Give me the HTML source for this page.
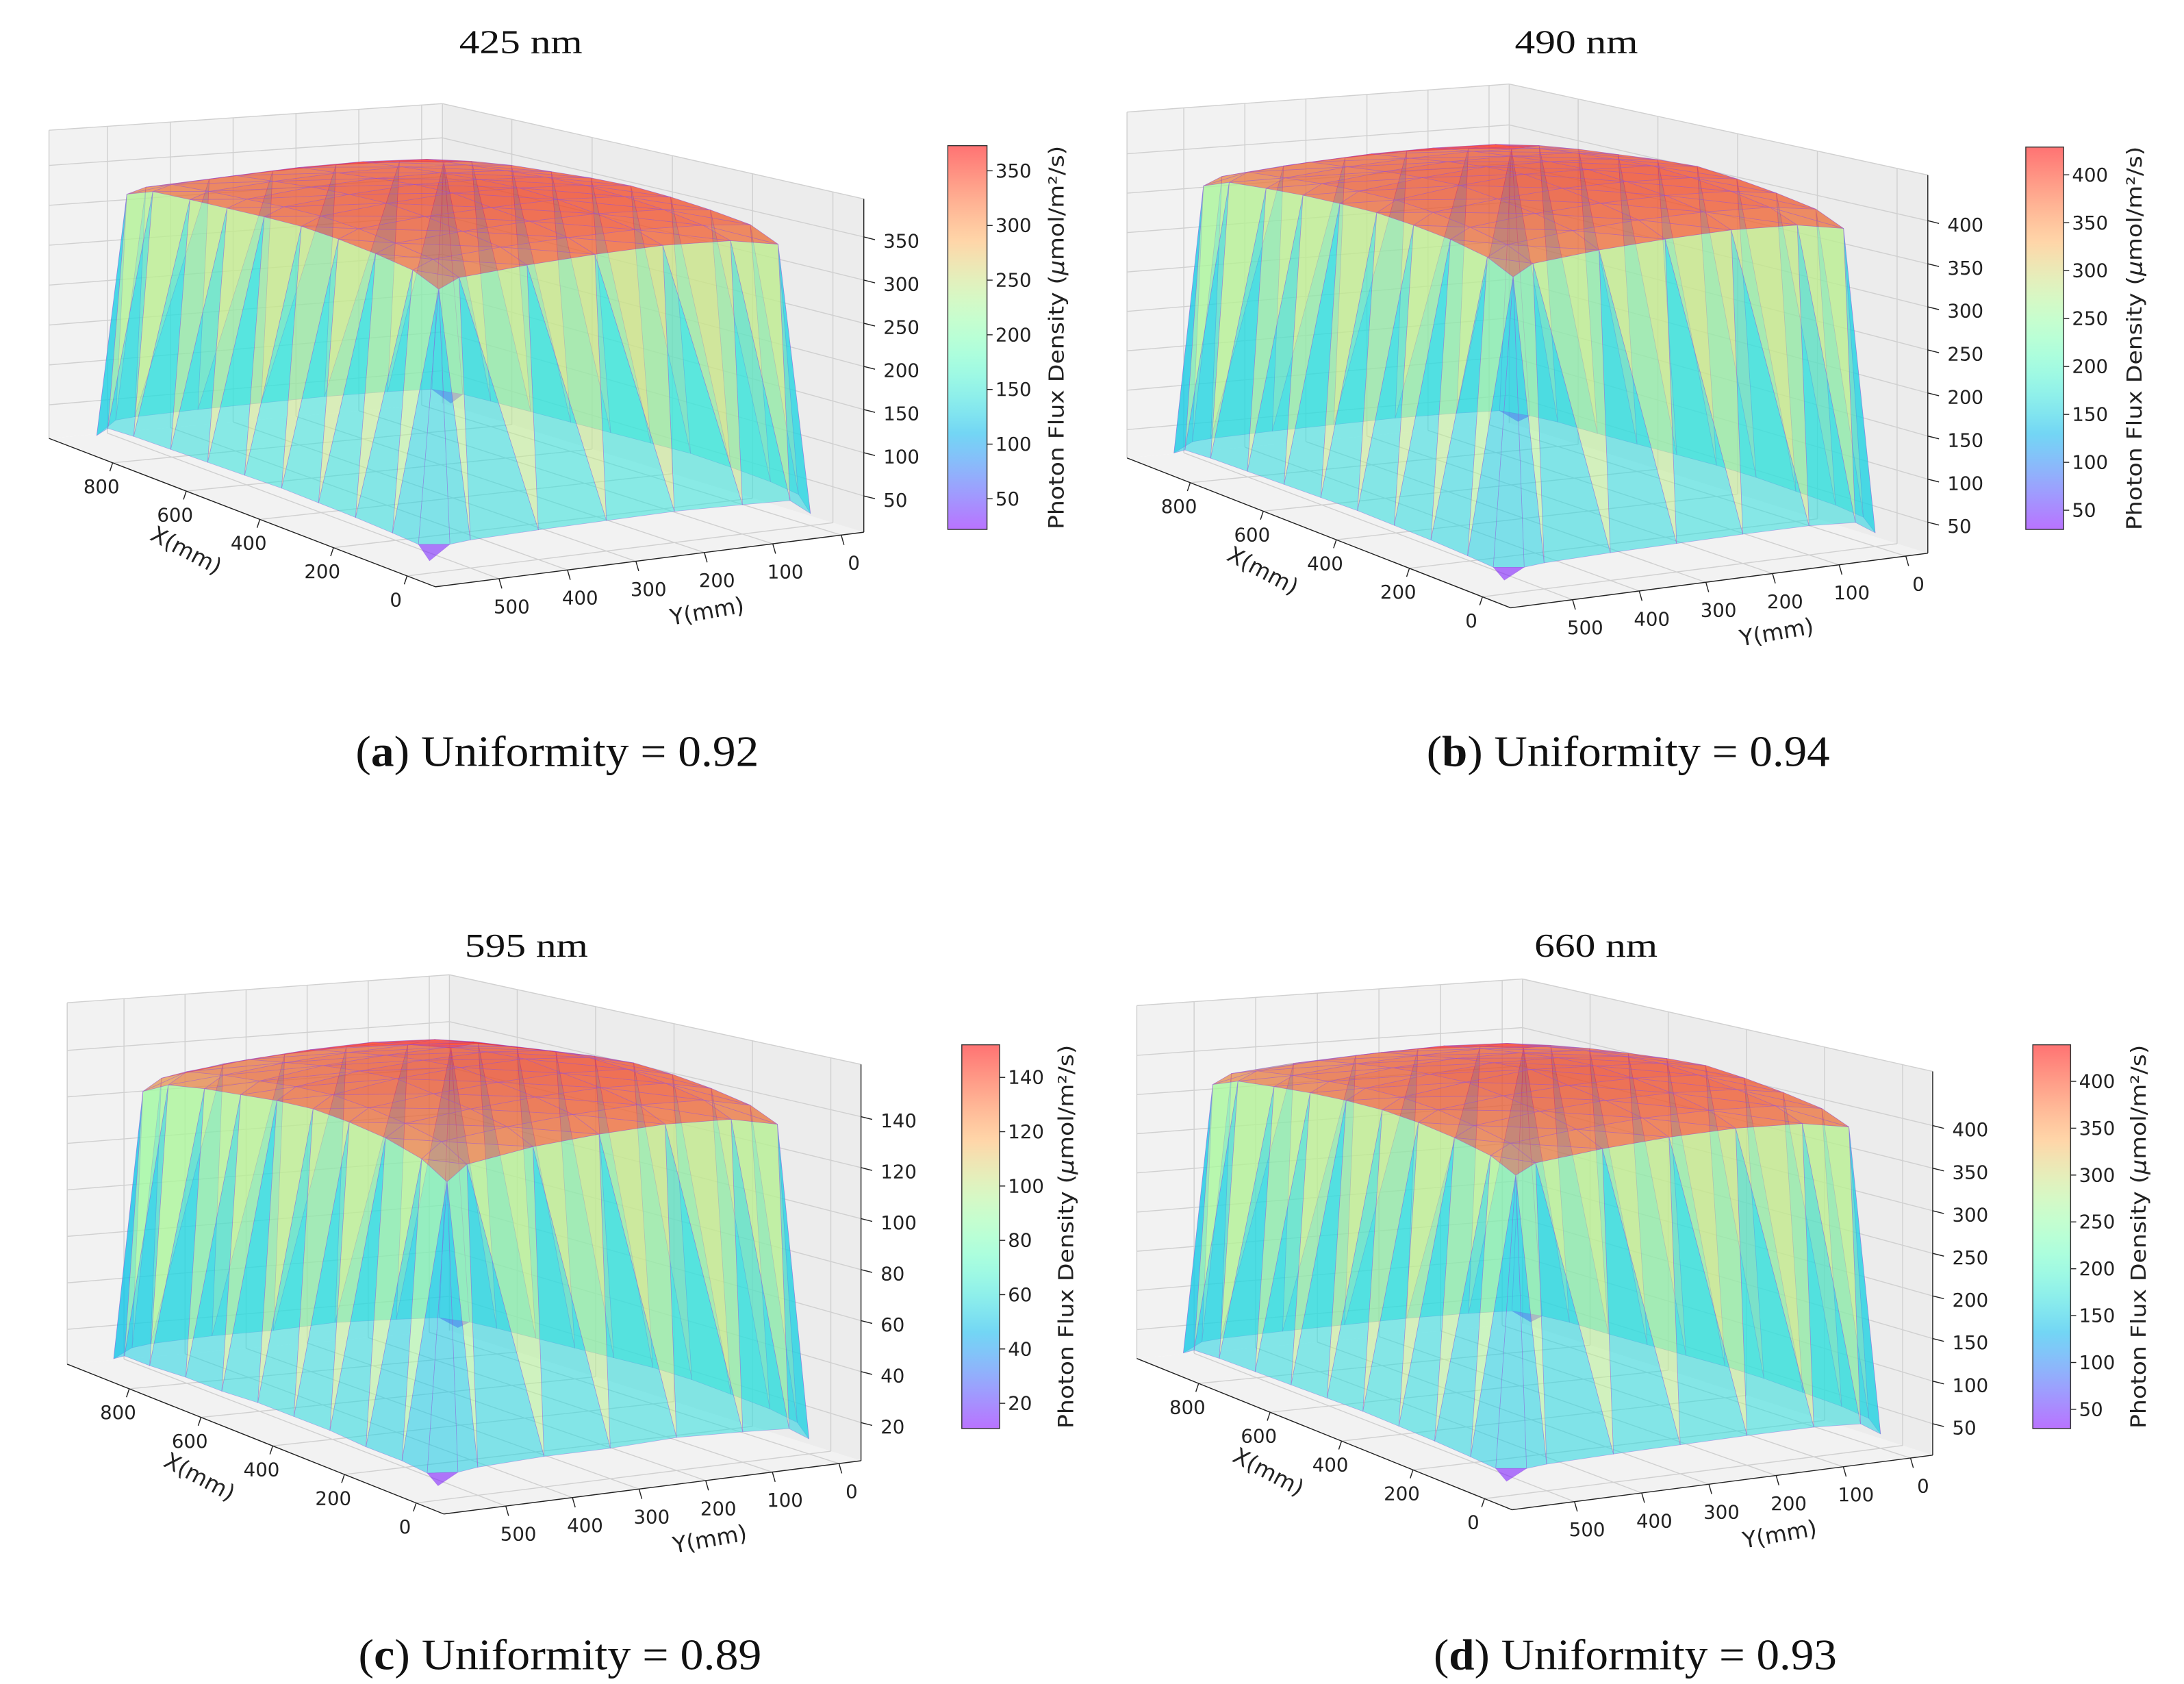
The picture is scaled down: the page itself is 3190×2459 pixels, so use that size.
<!DOCTYPE html>
<html><head><meta charset="utf-8"><style>
html,body{margin:0;padding:0;background:#fff;}
svg{display:block;}
</style></head><body>
<svg id="fig" xmlns="http://www.w3.org/2000/svg" width="3190" height="2459" viewBox="0 0 1560 1202.4" preserveAspectRatio="none">
<rect x="0" y="0" width="1560" height="1202.4" fill="#fff"/>
</svg>
<script>
// ---- data ----
const xGrid = [0, 30, 100, 200, 300, 400, 500, 600, 700, 800, 870, 900];
const yGrid = [0, 30, 100, 200, 300, 400, 500, 530, 560];
const zA = [
 [22,40,45,48,50,48,46,44,42,40,38,22],
 [40,335,350,356,360,362,360,356,352,345,335,42],
 [42,345,355,362,366,368,366,362,357,352,340,44],
 [44,348,358,365,370,372,370,366,361,355,342,45],
 [43,346,357,364,368,373,371,366,360,354,340,44],
 [42,342,354,360,365,368,366,362,356,350,336,43],
 [40,336,348,354,358,360,358,354,350,345,332,41],
 [38,325,338,344,348,350,348,345,342,338,325,39],
 [22,36,38,40,41,42,41,40,39,38,36,22]
];
const zB = [
 [30,44,48,50,52,52,50,48,46,45,42,30],
 [45,385,400,408,414,418,415,410,405,398,385,46],
 [48,395,408,416,421,424,421,417,411,404,390,48],
 [48,398,411,419,424,427,425,420,414,406,393,49],
 [47,396,410,418,424,429,426,420,412,405,391,48],
 [46,392,406,414,419,423,420,415,408,401,387,47],
 [44,385,398,406,411,413,411,407,401,395,380,45],
 [42,372,386,394,398,400,398,395,390,384,370,43],
 [30,40,42,44,45,46,45,44,43,42,40,31]
];
const zC = [
 [11,16,18,19,20,20,19,18,17,16,15,11],
 [16,135,140,143,145,146,145,143,141,139,134,16],
 [17,139,144,147,149,150,149,147,145,142,137,17],
 [18,140,145,148,150,152,151,149,146,143,138,18],
 [17,139,144,147,149,151,150,148,145,142,137,17],
 [17,137,142,145,147,149,148,146,143,140,135,17],
 [16,133,139,142,144,145,144,142,140,137,131,16],
 [15,127,133,137,139,140,139,137,135,132,126,15],
 [10.7,14,15,15,16,16,16,15,15,14,14,11]
];
const zD = [
 [30,44,48,50,52,52,50,48,46,45,42,29.5],
 [45,392,406,414,420,424,421,416,410,402,390,46],
 [48,402,415,423,429,432,429,424,417,409,396,48],
 [48,405,418,427,433,436,434,428,421,412,399,49],
 [47,403,417,426,432,439,435,428,419,410,397,48],
 [46,398,412,421,427,431,428,423,415,406,393,47],
 [44,390,404,412,418,420,418,413,407,399,386,45],
 [42,378,392,400,405,407,405,401,395,388,374,43],
 [30,40,42,44,45,46,45,44,43,42,40,31]
];
const xTicks = [0, 200, 400, 600, 800];
const yTicks = [0, 100, 200, 300, 400, 500];
const zTicksA = [50, 100, 150, 200, 250, 300, 350];
const zTicksB = [50, 100, 150, 200, 250, 300, 350, 400];
const zTicksC = [20, 40, 60, 80, 100, 120, 140];
const zTicksD = [50, 100, 150, 200, 250, 300, 350, 400];
const titles = ["425 nm", "490 nm", "595 nm", "660 nm"];
const letters = ["a", "b", "c", "d"];
const uniformity = ["0.92", "0.94", "0.89", "0.93"];

// ---- layout (pixel geometry, not data) ----
const X_LIM = [-77, 973], Y_LIM = [-33, 593];
const layouts = [
 {L:[35,313],F:[311,419],R:[617,380],B:[316,288],hL:220,hF:244,hR:238,hB:214,cb:[677,104,705,378],cbl:755,title:[372,38],cap:[398,547]},
 {L:[805,327],F:[1079,434],R:[1377,395],B:[1078,302],hL:247,hF:275,hR:270,hB:242,cb:[1447,105,1474,378],cbl:1525,title:[1126,38],cap:[1163,547]},
 {L:[48,974],F:[317,1081],R:[615,1043],B:[321,950],hL:258,hF:287,hR:283,hB:254,cb:[687,746,714,1020],cbl:762,title:[376,683],cap:[400,1192]},
 {L:[812,970],F:[1080,1078],R:[1380.5,1039],B:[1087.5,945],hL:252,hF:280,hR:274,hB:246,cb:[1452,746,1479,1020],cbl:1528,title:[1140,683],cap:[1168,1192]}
];
const panelData = [zA, zB, zC, zD];
const panelTicks = [zTicksA, zTicksB, zTicksC, zTicksD];

const NS = "http://www.w3.org/2000/svg";
const svg = document.getElementById('fig');
function mk(tag, attrs, parent){
  const e = document.createElementNS(NS, tag);
  for (const k in attrs) e.setAttribute(k, attrs[k]);
  parent.appendChild(e);
  return e;
}
function rainbow(t){
  t = Math.max(0, Math.min(1, t));
  const r = Math.min(1, Math.abs(2*t - 0.5));
  const g = Math.sin(Math.PI*t);
  const b = Math.cos(Math.PI*t/2);
  return 'rgb(' + Math.round(r*255) + ',' + Math.round(g*255) + ',' + Math.round(b*255) + ')';
}
const ALPHA = 0.55;

layouts.forEach((lay, pi) => {
  const Z = panelData[pi];
  const zt = panelTicks[pi];
  let zmin = Infinity, zmax = -Infinity;
  Z.forEach(r => r.forEach(v => { zmin = Math.min(zmin, v); zmax = Math.max(zmax, v); }));
  const span = zmax - zmin;
  const zlo = zmin - 0.04*span, zhi = zmax + 0.06*span;

  function proj(X, Y, Zv){
    const u = (X - X_LIM[0])/(X_LIM[1]-X_LIM[0]);
    const v = (Y - Y_LIM[0])/(Y_LIM[1]-Y_LIM[0]);
    const wR=(1-u)*(1-v), wF=(1-u)*v, wL=u*v, wB=u*(1-v);
    const bx = wR*lay.R[0]+wF*lay.F[0]+wL*lay.L[0]+wB*lay.B[0];
    const by = wR*lay.R[1]+wF*lay.F[1]+wL*lay.L[1]+wB*lay.B[1];
    const h = wR*lay.hR+wF*lay.hF+wL*lay.hL+wB*lay.hB;
    return [bx, by - h*(Zv - zlo)/(zhi - zlo)];
  }
  const pt = p => p[0].toFixed(2)+','+p[1].toFixed(2);

  const g = mk('g', {}, svg);
  
  

  const X0=X_LIM[0], X1=X_LIM[1], Y0=Y_LIM[0], Y1=Y_LIM[1];
  const floor = mk('polygon', {points:[proj(X0,Y1,zlo),proj(X1,Y1,zlo),proj(X1,Y0,zlo),proj(X0,Y0,zlo)].map(pt).join(' '), fill:'#f2f2f2'}, g);
  
  
  const lp = mk('polygon', {points:[proj(X1,Y1,zlo),proj(X1,Y0,zlo),proj(X1,Y0,zhi),proj(X1,Y1,zhi)].map(pt).join(' '), fill:'#f2f2f2'}, g);
  
  
  const rp = mk('polygon', {points:[proj(X1,Y0,zlo),proj(X0,Y0,zlo),proj(X0,Y0,zhi),proj(X1,Y0,zhi)].map(pt).join(' '), fill:'#ececec'}, g);
  
  

  const gridStyle = {stroke:'#d0d0d0','stroke-width':0.7, fill:'none'};
  function line(a, b, name, style){
    const l = mk('line', Object.assign({x1:a[0].toFixed(2),y1:a[1].toFixed(2),x2:b[0].toFixed(2),y2:b[1].toFixed(2)}, style), g);
    
    
    return l;
  }
  xTicks.forEach(x => {
    line(proj(x,Y1,zlo), proj(x,Y0,zlo), 'floor-grid-x', gridStyle);
    line(proj(x,Y0,zlo), proj(x,Y0,zhi), 'right-pane-grid-x', gridStyle);
  });
  yTicks.forEach(y => {
    line(proj(X0,y,zlo), proj(X1,y,zlo), 'floor-grid-y', gridStyle);
    line(proj(X1,y,zlo), proj(X1,y,zhi), 'left-pane-grid-y', gridStyle);
  });
  zt.forEach(z => {
    line(proj(X1,Y1,z), proj(X1,Y0,z), 'left-pane-grid-z', gridStyle);
    line(proj(X1,Y0,z), proj(X0,Y0,z), 'right-pane-grid-z', gridStyle);
  });
  line(proj(X1,Y1,zhi), proj(X1,Y0,zhi), 'pane-edge', gridStyle);
  line(proj(X1,Y0,zhi), proj(X0,Y0,zhi), 'pane-edge', gridStyle);
  line(proj(X1,Y0,zlo), proj(X1,Y0,zhi), 'pane-edge', gridStyle);
  line(proj(X1,Y1,zlo), proj(X1,Y1,zhi), 'pane-edge', gridStyle);

  const axStyle = {stroke:'#222','stroke-width':0.7};
  line(proj(X1,Y1,zlo), proj(X0,Y1,zlo), 'x-axis-line', axStyle);
  line(proj(X0,Y1,zlo), proj(X0,Y0,zlo), 'y-axis-line', axStyle);
  line(proj(X0,Y0,zlo), proj(X0,Y0,zhi), 'z-axis-line', axStyle);

  const tris = [];
  for (let j = 0; j < yGrid.length-1; j++){
    for (let i = 0; i < xGrid.length-1; i++){
      const A=[i,j], Bq=[i+1,j], C=[i+1,j+1], D=[i,j+1];
      [[A,Bq,C],[A,C,D]].forEach(t => {
        const zs = t.map(q => Z[q[1]][q[0]]);
        const avg = (zs[0]+zs[1]+zs[2])/3;
        const xs = t.map(q => xGrid[q[0]]), ys = t.map(q => yGrid[q[1]]);
        const cx = (xs[0]+xs[1]+xs[2])/3, cy = (ys[0]+ys[1]+ys[2])/3;
        const depth = (cx - X_LIM[0])/(X_LIM[1]-X_LIM[0]) + (Y_LIM[1]-cy)/(Y_LIM[1]-Y_LIM[0]);
        tris.push({pts:t.map((q,k) => proj(xs[k], ys[k], zs[k])), avg, depth});
      });
    }
  }
  tris.sort((a,b) => b.depth - a.depth);
  const sg = mk('g', {}, g);
  
  
  tris.forEach(t => {
    const p = mk('polygon', {points:t.pts.map(pt).join(' '), fill:rainbow((t.avg - zmin)/span), 'fill-opacity':ALPHA, stroke:'rgba(150,90,220,0.45)', 'stroke-width':0.35, 'stroke-linejoin':'round'}, sg);
    
    
  });

  const tickFont = {'font-family':'"DejaVu Sans","Liberation Sans",sans-serif','font-size':13.5, fill:'#222'};
  xTicks.forEach(x => {
    const p = proj(x, Y1, zlo);
    line(p, [p[0]-2, p[1]+6], 'x-tick', axStyle);
    const t = mk('text', Object.assign({x:(p[0]-8).toFixed(2), y:(p[1]+17).toFixed(2), 'text-anchor':'middle', 'dominant-baseline':'central'}, tickFont), g);
    t.textContent = x;
    
    
  });
  yTicks.forEach(y => {
    const p = proj(X0, y, zlo);
    line(p, [p[0]+2, p[1]+7], 'y-tick', axStyle);
    const t = mk('text', Object.assign({x:(p[0]+9).toFixed(2), y:(p[1]+20).toFixed(2), 'text-anchor':'middle', 'dominant-baseline':'central'}, tickFont), g);
    t.textContent = y;
    
    
  });
  zt.forEach(z => {
    const p = proj(X0, Y0, z);
    line(p, [p[0]+8, p[1]+2], 'z-tick', axStyle);
    const t = mk('text', Object.assign({x:(p[0]+14).toFixed(2), y:(p[1]+3).toFixed(2), 'text-anchor':'start', 'dominant-baseline':'central'}, tickFont), g);
    t.textContent = z;
    
    
  });
  const mXL = [(lay.L[0]+lay.F[0])/2 - 40, (lay.L[1]+lay.F[1])/2 + 27];
  const xl = mk('text', {x:mXL[0], y:mXL[1], 'text-anchor':'middle','dominant-baseline':'central','font-family':'"DejaVu Sans","Liberation Sans",sans-serif','font-size':16, fill:'#222', transform:'rotate(28 '+mXL[0]+' '+mXL[1]+')'}, g);
  xl.textContent = 'X(mm)';
  
  
  const mYL = [(lay.F[0]+lay.R[0])/2 + 41, (lay.F[1]+lay.R[1])/2 + 37];
  const yl = mk('text', {x:mYL[0], y:mYL[1], 'text-anchor':'middle','dominant-baseline':'central','font-family':'"DejaVu Sans","Liberation Sans",sans-serif','font-size':16, fill:'#222', transform:'rotate(-10 '+mYL[0]+' '+mYL[1]+')'}, g);
  yl.textContent = 'Y(mm)';
  
  

  const defs = mk('defs', {}, g);
  const gid = 'cbgrad' + pi;
  const lg = mk('linearGradient', {id:gid, x1:0, y1:1, x2:0, y2:0}, defs);
  for (let k = 0; k <= 20; k++){
    mk('stop', {offset:(k/20), 'stop-color':rainbow(k/20), 'stop-opacity':ALPHA}, lg);
  }
  const [cx1, cy1, cx2, cy2] = lay.cb;
  const cbr = mk('rect', {x:cx1, y:cy1, width:cx2-cx1, height:cy2-cy1, fill:'url(#'+gid+')', stroke:'#333', 'stroke-width':0.7}, g);
  
  
  zt.forEach(z => {
    const yy = cy2 - (z - zmin)/span*(cy2-cy1);
    line([cx2, yy], [cx2+4, yy], 'colorbar-tick', axStyle);
    const t = mk('text', Object.assign({x:cx2+6, y:yy.toFixed(2), 'text-anchor':'start','dominant-baseline':'central'}, tickFont), g);
    t.textContent = z;
    
    
  });
  const cym = (cy1+cy2)/2;
  const cl = mk('text', {x:lay.cbl, y:cym, 'text-anchor':'middle','dominant-baseline':'central','font-family':'"DejaVu Sans","Liberation Sans",sans-serif','font-size':15, fill:'#222', textLength:274, lengthAdjust:'spacingAndGlyphs', transform:'rotate(-90 '+lay.cbl+' '+cym+')'}, g);
  
  
  cl.appendChild(document.createTextNode('Photon Flux Density ('));
  const mu = mk('tspan', {'font-style':'italic'}, cl);
  mu.textContent = 'μ';
  cl.appendChild(document.createTextNode('mol/m²/s)'));

  const tt = mk('text', {x:lay.title[0], y:lay.title[1], 'text-anchor':'middle','font-family':'"Liberation Serif",serif','font-size':24, fill:'#111', textLength:88, lengthAdjust:'spacingAndGlyphs'}, g);
  tt.textContent = titles[pi];
  
  
  const cp = mk('text', {x:lay.cap[0], y:lay.cap[1], 'text-anchor':'middle','font-family':'"Liberation Serif",serif','font-size':31, fill:'#111', textLength:288, lengthAdjust:'spacingAndGlyphs'}, g);
  
  
  cp.appendChild(document.createTextNode('('));
  const bl = mk('tspan', {'font-weight':'bold'}, cp);
  bl.textContent = letters[pi];
  cp.appendChild(document.createTextNode(') Uniformity = ' + uniformity[pi]));
});
</script>
</body></html>
